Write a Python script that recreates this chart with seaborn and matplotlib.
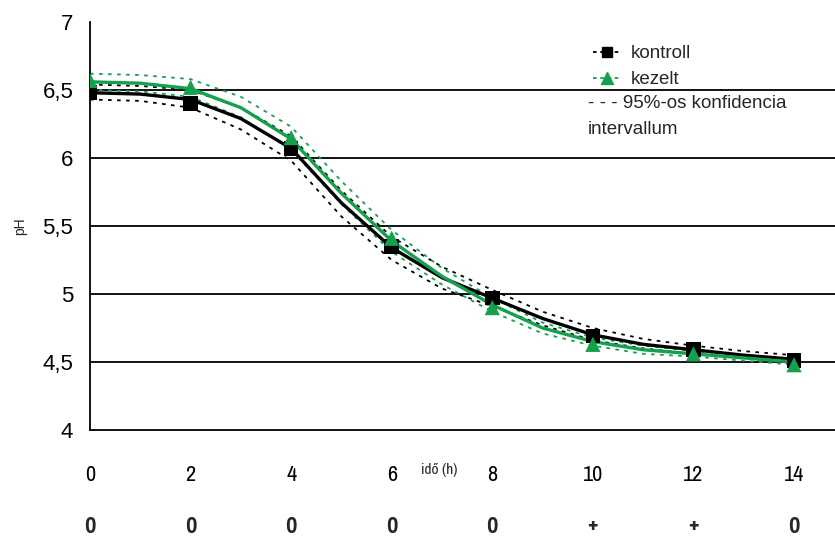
import numpy as np
import pandas as pd
import matplotlib
matplotlib.use("Agg")
import matplotlib.pyplot as plt
from matplotlib.lines import Line2D
from matplotlib import font_manager
from matplotlib.font_manager import FontProperties
import seaborn as sns

# measured points
hours = [0, 2, 4, 6, 8, 10, 12, 14]
kontroll = [6.48, 6.40, 6.07, 5.35, 4.97, 4.69, 4.59, 4.51]
kezelt = [6.57, 6.52, 6.15, 5.41, 4.90, 4.63, 4.56, 4.48]

# fitted curves and 95% bands, every hour
fit_hours = [0, 1, 2, 3, 4, 5, 6, 7, 8, 9, 10, 11, 12, 13, 14]
kontroll_fit = [6.48, 6.47, 6.43, 6.29, 6.07, 5.67, 5.34, 5.12, 4.97, 4.82, 4.70, 4.63, 4.59, 4.55, 4.52]
kontroll_hi = [6.54, 6.53, 6.50, 6.37, 6.16, 5.76, 5.42, 5.20, 5.03, 4.87, 4.75, 4.67, 4.62, 4.58, 4.55]
kontroll_lo = [6.43, 6.42, 6.37, 6.21, 5.98, 5.57, 5.25, 5.04, 4.91, 4.77, 4.66, 4.60, 4.56, 4.53, 4.49]
kezelt_fit = [6.56, 6.55, 6.51, 6.37, 6.14, 5.74, 5.39, 5.13, 4.92, 4.75, 4.65, 4.59, 4.56, 4.53, 4.50]
kezelt_hi = [6.62, 6.61, 6.58, 6.45, 6.23, 5.83, 5.47, 5.19, 4.97, 4.79, 4.68, 4.62, 4.58, 4.55, 4.52]
kezelt_lo = [6.50, 6.49, 6.45, 6.30, 6.06, 5.66, 5.31, 5.07, 4.87, 4.71, 4.62, 4.56, 4.54, 4.51, 4.48]

signif = ["0", "0", "0", "0", "0", "+", "+", "0"]
y_ticks = [4, 4.5, 5, 5.5, 6, 6.5, 7]
y_ticklabels = ["4", "4,5", "5", "5,5", "6", "6,5", "7"]
grid_vals = [4.5, 5, 5.5, 6, 6.5]

GREEN = "#14a04c"

sns.set_style("white")
plt.rcParams["font.family"] = ["Liberation Sans", "DejaVu Sans"]

# condensed faces for the squeezed x-axis texts (fall back to Liberation Sans)
narrow_reg = None
narrow_bold = None
for f in font_manager.fontManager.ttflist:
    if "Narrow" in f.name and f.style == "normal":
        w = f.weight if isinstance(f.weight, int) else (700 if "bold" in str(f.weight) else 400)
        if w >= 600 and narrow_bold is None:
            narrow_bold = f.fname
        if w < 600 and narrow_reg is None:
            narrow_reg = f.fname


def xfont(size, bold=False):
    path = narrow_bold if bold else narrow_reg
    if path:
        return FontProperties(fname=path, size=size)
    return FontProperties(family="Liberation Sans", size=size,
                          weight="bold" if bold else "normal")


fig = plt.figure(figsize=(8.35, 5.42), dpi=100)
ax = fig.add_axes([90 / 835, 1 - 430 / 542, 1 - 90 / 835, 408 / 542])

for g in grid_vals:
    ax.axhline(g, color="black", lw=1.3, zorder=1)

fit = pd.DataFrame({"t": fit_hours * 2,
                    "ph": kontroll_fit + kezelt_fit,
                    "grp": ["k"] * 15 + ["z"] * 15})
band = pd.DataFrame({"t": fit_hours * 4,
                     "ph": kontroll_hi + kontroll_lo + kezelt_hi + kezelt_lo,
                     "grp": ["kh"] * 15 + ["kl"] * 15 + ["zh"] * 15 + ["zl"] * 15})
pts = pd.DataFrame({"t": hours * 2, "ph": kontroll + kezelt,
                    "grp": ["k"] * 8 + ["z"] * 8})

pal_band = {"kh": "black", "kl": "black", "zh": GREEN, "zl": GREEN}
sns.lineplot(data=band, x="t", y="ph", hue="grp", palette=pal_band, ax=ax,
             lw=1.3, legend=False, zorder=2)
for ln in ax.get_lines()[len(grid_vals):]:
    ln.set_linestyle((0, (2, 3)))
sns.lineplot(data=fit, x="t", y="ph", hue="grp", palette={"k": "black", "z": GREEN},
             ax=ax, lw=2.4, legend=False, zorder=3)
sns.scatterplot(data=pts[pts.grp == "k"], x="t", y="ph", color="black", marker="s",
                s=110, edgecolor="none", ax=ax, zorder=4)
sns.scatterplot(data=pts[pts.grp == "z"], x="t", y="ph", color=GREEN, marker="^",
                s=120, edgecolor="none", ax=ax, zorder=5)

ax.set_xlim(0, 745 / (704 / 14))
ax.set_ylim(4, 7)
ax.set_xticks(hours)
ax.set_xticklabels([str(h) for h in hours], fontproperties=xfont(16))
ax.set_yticks(y_ticks)
ax.set_yticklabels(y_ticklabels, fontsize=16)
ax.tick_params(axis="x", direction="out", length=8, width=1.3, pad=17, colors="black")
ax.tick_params(axis="y", direction="out", length=8, width=1.3, pad=4, colors="black")
for s in ["top", "right"]:
    ax.spines[s].set_visible(False)
for s in ["left", "bottom"]:
    ax.spines[s].set_color("black")
    ax.spines[s].set_linewidth(1.3)
ax.set_xlabel("")
ax.set_ylabel("")

fig.text(20 / 835, 1 - 226 / 542, "pH", rotation=90, fontsize=10, ha="center", va="center")
ax.text(6.95, -0.098, "idő (h)", transform=ax.get_xaxis_transform(),
        fontproperties=xfont(11), ha="center", va="center")
for h, s in zip(hours, signif):
    ax.text(h, -0.24, s, transform=ax.get_xaxis_transform(),
            fontproperties=xfont(17, bold=True), ha="center", va="center")

handles = [Line2D([], [], color="black", ls=(0, (2, 2)), lw=1.3, marker="s", ms=7),
           Line2D([], [], color=GREEN, ls=(0, (2, 2)), lw=1.3, marker="^", ms=9)]
fig.legend(handles, ["kontroll", "kezelt"], loc="upper left",
           bbox_to_anchor=(584 / 835, 1 - 36 / 542), frameon=False, fontsize=13.5,
           handlelength=1.5, handletextpad=0.5, labelspacing=0.45, borderpad=0)
fig.text(588 / 835, 1 - 103 / 542, "- - - 95%-os konfidencia", fontsize=13.5,
         ha="left", va="center")
fig.text(588 / 835, 1 - 130 / 542, "intervallum", fontsize=13.5,
         ha="left", va="center")

fig.savefig("out.png", dpi=100)
